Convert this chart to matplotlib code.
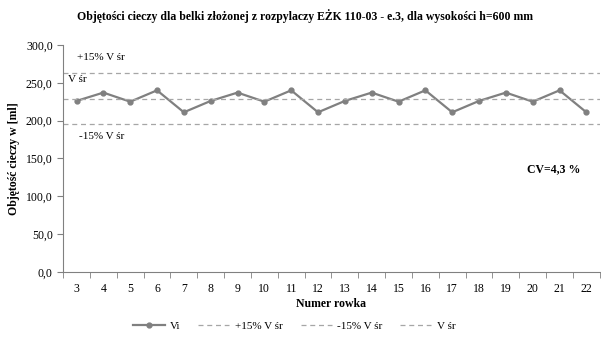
import matplotlib.pyplot as plt
from matplotlib.ticker import FuncFormatter

# numery rowków i zmierzone objętości
rowki = [3, 4, 5, 6, 7, 8, 9, 10, 11, 12, 13, 14, 15, 16, 17, 18, 19, 20, 21, 22]
vi = [226, 237, 225, 240, 211, 226, 237, 225, 240, 211,
      226, 237, 225, 240, 211, 226, 237, 225, 240, 211]
v_sr = 229.0
v_plus = 263.0
v_minus = 195.0
cv_text = 'CV=4,3 %'

plt.rcParams['font.family'] = ['Liberation Serif', 'DejaVu Serif']

fig = plt.figure(figsize=(6.01, 3.41), dpi=100)
ax = fig.add_axes([0.105, 0.2023, 0.893, 0.666])

x = list(range(len(rowki)))
line_vi, = ax.plot(x, vi, color='#808080', lw=1.6, marker='o', ms=3.5, label='Vi')
line_p = ax.axhline(v_plus, color='#a6a6a6', lw=0.9, ls=(0, (4, 3)), label='+15% V śr')
line_m = ax.axhline(v_minus, color='#a6a6a6', lw=0.9, ls=(0, (4, 3)), label='-15% V śr')
line_s = ax.axhline(v_sr, color='#a6a6a6', lw=0.9, ls=(0, (4, 3)), label='V śr')

ax.set_xlim(-0.5, len(rowki) - 0.5)
ax.set_ylim(0, 300)
ax.set_yticks([0, 50, 100, 150, 200, 250, 300])
ax.yaxis.set_major_formatter(FuncFormatter(lambda v, p: f'{v:.1f}'.replace('.', ',')))

# etykiety pod kategoriami, kreski na granicach
ax.set_xticks(x)
ax.set_xticklabels([str(r) for r in rowki])
ax.set_xticks([i - 0.5 for i in range(len(rowki) + 1)], minor=True)
ax.tick_params(axis='x', which='major', length=0, pad=8, labelsize=8.5)
ax.tick_params(axis='x', which='minor', length=4, color='#808080')
ax.tick_params(axis='y', length=4, color='#808080', labelsize=8.5)

for s in ['top', 'right']:
    ax.spines[s].set_visible(False)
for s in ['left', 'bottom']:
    ax.spines[s].set_color('#808080')

ax.text(0, 280, '+15% V śr', fontsize=8)
ax.text(-0.3, 254, 'V śr', fontsize=8, va='center')
ax.text(0.1, 185, '-15% V śr', fontsize=8, va='top')
ax.text(16.8, 136, cv_text, fontsize=8.5, fontweight='bold', va='center')

ax.set_title('Objętości cieczy dla belki złożonej z rozpylaczy EŻK 110-03 - e.3, dla wysokości h=600 mm',
             fontsize=8.5, fontweight='bold', pad=18, x=0.45)
ax.set_xlabel('Numer rowka', fontsize=8.5, fontweight='bold', labelpad=2)
ax.set_ylabel('Objętość cieczy w [ml]', fontsize=8.5, fontweight='bold')

fig.legend(handles=[line_vi, line_p, line_m, line_s], loc='center', bbox_to_anchor=(0.49, 0.045),
           ncol=4, frameon=False, fontsize=8, handlelength=2.8, handletextpad=0.5, columnspacing=1.6)

fig.savefig('out.png', dpi=100)
